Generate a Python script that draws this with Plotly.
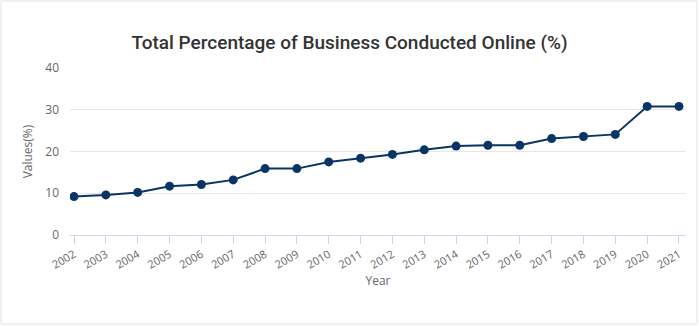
import plotly.graph_objects as go

years = list(range(2002, 2022))
values = [9.2, 9.6, 10.2, 11.7, 12.1, 13.2, 15.9, 15.9, 17.5, 18.4,
          19.3, 20.4, 21.3, 21.5, 21.5, 23.1, 23.6, 24.1, 30.8, 30.8]
y_ticks = [0, 10, 20, 30, 40]

W, H = 699, 326
L, R, T, B = 70, 13, 68, 91
pw, ph = W - L - R, H - T - B

fig = go.Figure()
fig.add_trace(go.Scatter(
    x=years, y=values, mode="lines+markers",
    line=dict(color="#0b3466", width=2),
    marker=dict(color="#0b3466", size=9),
    hoverinfo="x+y", showlegend=False,
))

def px2x(p):
    return (p - L) / pw

def px2y(p):
    return (H - B - p) / ph

fig.add_shape(type="rect", xref="paper", yref="paper",
              x0=px2x(1), x1=px2x(697), y0=px2y(324), y1=px2y(1),
              line=dict(color="#e3e3e3", width=1), fillcolor="rgba(0,0,0,0)",
              layer="below")

fig.update_layout(
    width=W, height=H,
    margin=dict(l=L, r=R, t=T, b=B),
    paper_bgcolor="white", plot_bgcolor="white",
    title=dict(text="Total Percentage of Business Conducted Online (%)",
               x=0.5, xref="container", xanchor="center",
               y=1 - 42 / H, yanchor="middle",
               font=dict(family="Roboto", size=19, weight=500, color="#333333")),
    xaxis=dict(
        range=[2001.874, 2021.22], tickmode="array", tickvals=years,
        ticktext=[str(y) for y in years], tickangle=-30,
        showgrid=False, showline=True, linecolor="#ccd6eb", linewidth=1,
        ticks="outside", ticklen=8, tickcolor="#ccd6eb", tickwidth=1,
        tickfont=dict(family="Open Sans", size=11, color="#666666"),
        title=dict(text="Year", standoff=3,
                   font=dict(family="Open Sans", size=12, color="#666666")),
        zeroline=False, fixedrange=True,
    ),
    yaxis=dict(
        range=[0, 40], tickmode="array", tickvals=y_ticks,
        showgrid=True, gridcolor="#e6e6e6", gridwidth=1,
        showline=False, zeroline=False, ticks="",
        ticklabelstandoff=10,
        tickfont=dict(family="Open Sans", size=12, color="#666666"),
        title=dict(text="Values(%)", standoff=10,
                   font=dict(family="Open Sans", size=12, color="#666666")),
        fixedrange=True,
    ),
)

fig.write_html("out.html")
